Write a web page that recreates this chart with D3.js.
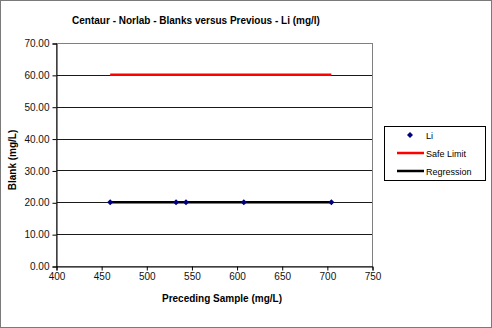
<!DOCTYPE html>
<html>
<head>
<meta charset="utf-8">
<script src="https://cdn.jsdelivr.net/npm/d3@7/dist/d3.min.js"></script>
<style>
  html, body { margin: 0; padding: 0; background: #fff; }
  svg text { font-family: "Liberation Sans", Arial, sans-serif; }
</style>
</head>
<body>
<svg id="chart" width="492" height="328"></svg>
<script>
// Blank readings (mg/L) against the preceding sample (mg/L)
const precedingSample = [460, 533, 544, 608, 705];
const blankValues = [20, 20, 20, 20, 20];
// Safe limit line endpoints
const safeLimitX = [460, 705];
const safeLimitY = [60, 60];
// Regression line endpoints
const regressionX = [460, 705];
const regressionY = [20, 20];
// Axis ticks
const xTicks = [400, 450, 500, 550, 600, 650, 700, 750];
const yTicks = [0, 10, 20, 30, 40, 50, 60, 70];
const legendLabels = ["Li", "Safe Limit", "Regression"];

const svg = d3.select("#chart");
const W = 492, H = 328;
const plot = { left: 56, right: 372, top: 43, bottom: 266 };

// Outer frame
svg.append("rect").attr("x", 0.5).attr("y", 0.5).attr("width", W - 1).attr("height", H - 1)
  .attr("fill", "#fff").attr("stroke", "#7a7a7a").attr("stroke-width", 1);

const x = d3.scaleLinear().domain([400, 750]).range([plot.left, plot.right]);
const y = d3.scaleLinear().domain([0, 70]).range([plot.bottom, plot.top]);

// Gridlines
svg.append("g").selectAll("line").data(yTicks.filter(d => d > 0 && d < 70)).join("line")
  .attr("x1", plot.left).attr("x2", plot.right)
  .attr("y1", d => Math.round(y(d)) + 0.5).attr("y2", d => Math.round(y(d)) + 0.5)
  .attr("stroke", "#1a1a1a").attr("stroke-width", 1);

// Plot area border
svg.append("rect").attr("x", plot.left + 0.5).attr("y", plot.top + 0.5)
  .attr("width", plot.right - plot.left).attr("height", plot.bottom - plot.top)
  .attr("fill", "none").attr("stroke", "#808080").attr("stroke-width", 1);

// Axes
const yAxis = d3.axisLeft(y).tickValues(yTicks).tickFormat(d3.format(".2f")).tickSize(4).tickPadding(3);
const gy = svg.append("g").attr("transform", `translate(${plot.left + 0.5},0.5)`).call(yAxis);
const xAxis = d3.axisBottom(x).tickValues(xTicks).tickFormat(d3.format("d")).tickSize(4).tickPadding(2);
const gx = svg.append("g").attr("transform", `translate(0.5,${plot.bottom + 0.5})`).call(xAxis);
[gx, gy].forEach(g => {
  g.select(".domain").attr("stroke", "#000");
  g.selectAll(".tick line").attr("stroke", "#000");
  g.selectAll(".tick text").attr("fill", "#111").style("font-size", "10px");
});

// Safe limit line
svg.append("line")
  .attr("x1", x(safeLimitX[0])).attr("x2", x(safeLimitX[1]))
  .attr("y1", y(safeLimitY[0])).attr("y2", y(safeLimitY[1]))
  .attr("stroke", "#ff0000").attr("stroke-width", 2.5);

// Regression line
svg.append("line")
  .attr("x1", x(regressionX[0])).attr("x2", x(regressionX[1]))
  .attr("y1", y(regressionY[0])).attr("y2", y(regressionY[1]))
  .attr("stroke", "#000").attr("stroke-width", 2.5);

// Data points (square diamonds)
const diamond = d3.symbol().type(d3.symbolSquare).size(18);
svg.append("g").selectAll("path").data(precedingSample).join("path")
  .attr("d", diamond)
  .attr("transform", (d, i) => `translate(${x(d)},${y(blankValues[i])}) rotate(45)`)
  .attr("fill", "#000080");

// Titles
svg.append("text").attr("x", 196).attr("y", 24).attr("text-anchor", "middle")
  .style("font-size", "10px").style("font-weight", "bold").text("Centaur - Norlab - Blanks versus Previous - Li (mg/l)");
svg.append("text").attr("x", 222).attr("y", 302).attr("text-anchor", "middle")
  .style("font-size", "10px").style("font-weight", "bold").text("Preceding Sample (mg/L)");
svg.append("text").attr("transform", "translate(16,160) rotate(-90)").attr("text-anchor", "middle")
  .style("font-size", "10px").style("font-weight", "bold").text("Blank (mg/L)");

// Legend
const lg = svg.append("g").attr("transform", "translate(384,126)");
lg.append("rect").attr("x", 0.5).attr("y", 0.5).attr("width", 101).attr("height", 54)
  .attr("fill", "#fff").attr("stroke", "#000").attr("stroke-width", 1);
const rowY = [9, 27, 45];
lg.append("path").attr("d", diamond).attr("transform", `translate(26,${rowY[0]}) rotate(45)`).attr("fill", "#000080");
lg.append("line").attr("x1", 13).attr("x2", 40).attr("y1", rowY[1]).attr("y2", rowY[1])
  .attr("stroke", "#ff0000").attr("stroke-width", 2.5);
lg.append("line").attr("x1", 13).attr("x2", 40).attr("y1", rowY[2]).attr("y2", rowY[2])
  .attr("stroke", "#000").attr("stroke-width", 2.5);
lg.selectAll("text.lbl").data(legendLabels).join("text").attr("class", "lbl")
  .attr("x", 42).attr("y", (d, i) => rowY[i] + 3.5)
  .style("font-size", "9px").attr("fill", "#000").text(d => d);
</script>
</body>
</html>
